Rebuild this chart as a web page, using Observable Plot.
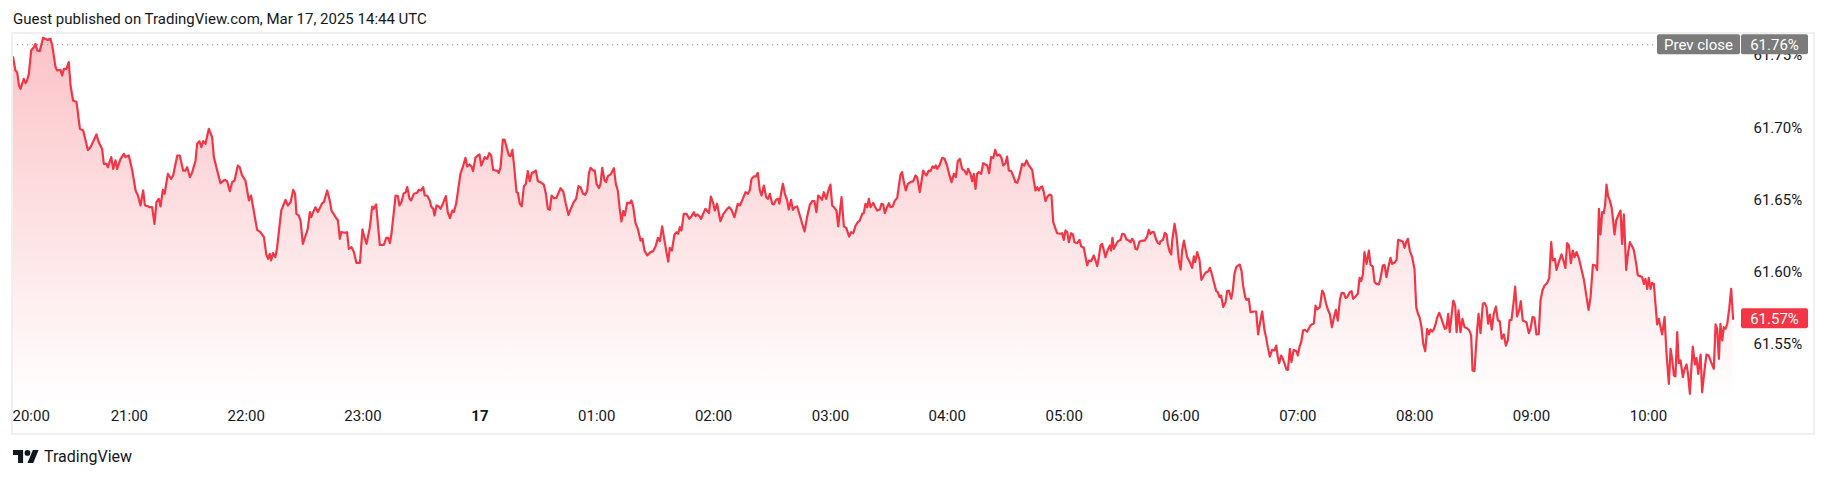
<!DOCTYPE html>
<html>
<head>
<meta charset="utf-8">
<script src="https://cdn.jsdelivr.net/npm/d3@7"></script>
<script src="https://cdn.jsdelivr.net/npm/@observablehq/plot@0.6"></script>
<style>
  html, body { margin: 0; padding: 0; background: #ffffff; }
  #wrap { position: relative; width: 1827px; height: 478px; overflow: hidden; font-family: Roboto, "Open Sans", sans-serif; color: #131722; }
  #title { position: absolute; left: 13px; top: 9px; font-size: 15px; line-height: 20px; white-space: nowrap; }
  #border { position: absolute; left: 11px; top: 32px; width: 1800px; height: 399px; border: 2px solid #f0f0f0; box-sizing: content-box; pointer-events: none; }
  #chart { position: absolute; left: 0; top: 0; }
  #footer { position: absolute; left: 13px; top: 446px; height: 20px; display: flex; align-items: center; font-size: 16px; white-space: nowrap; }
  #footer svg { margin-right: 5px; }
</style>
</head>
<body>
<div id="wrap">
  <div id="title"></div>
  <div id="chart"></div>
  <div id="border"></div>
  <div id="footer"><svg width="26" height="15" viewBox="0 3 36 20"><path d="M14 22H7V11H0V4h14v18ZM28 22h-8l7.5-18h8L28 22Z" fill="#131722"/><circle cx="20" cy="8" r="4" fill="#131722"/></svg><span id="brand"></span></div>
</div>
<script>
// ---- texts ----
const titleText = "Guest published on TradingView.com, Mar 17, 2025 14:44 UTC";
const brandText = "TradingView";

// ---- x ticks (hours from 20:00 on Mar 16) ----
const tickLabels = ["20:00","21:00","22:00","23:00","17","01:00","02:00","03:00","04:00","05:00","06:00","07:00","08:00","09:00","10:00"];
const tickHoursAfter2000 = [0,1,2,3,4,5,6,7,8,9,10,11,12,13,14];

// ---- y ticks ----
const yTicks = [61.55, 61.60, 61.65, 61.70, 61.75];

// ---- reference values ----
const prevClose = 61.7575;
const prevCloseLabel = "61.76%";
const lastLabel = "61.57%";

// ---- series: minutes after 20:00 (Mar 16) and value in % ----
const minutesAfter2000 = [
  0.3,1.5,2.4,3.3,4.1,5.8,6.7,7.5,8.4,9.6,
  11.0,11.8,12.7,14.0,15.7,17.8,19.5,20.4,22.1,22.9,
  24.6,25.5,26.4,27.7,28.9,29.8,31.1,32.9,34.6,36.3,
  38.7,40.1,43.1,44.3,46.0,46.9,48.3,49.0,50.7,51.7,
  52.9,53.7,55.5,57.2,58.0,59.7,61.5,63.2,64.4,65.7,
  67.1,68.0,69.5,70.5,71.7,72.9,73.9,75.1,76.0,77.2,
  78.1,79.8,81.5,82.5,84.6,85.9,87.6,88.8,89.7,91.1,
  92.3,94.0,94.8,96.0,97.0,97.9,99.1,100.8,102.5,103.4,
  105.1,106.8,108.9,110.2,111.6,112.8,114.0,115.7,116.7,117.9,
  119.6,121.4,122.5,125.6,127.3,129.1,130.3,131.3,132.1,132.8,
  133.8,135.0,135.9,138.0,140.2,141.4,
  142.8,144.1,145.1,145.8,147.0,147.9,149.1,150.5,151.6,152.7,
  153.4,154.4,155.6,156.8,159.0,159.9,161.6,162.9,163.8,165.9,
  167.1,168.1,168.8,171.0,171.8,172.7,174.1,175.3,176.6,178.4,
  179.7,180.7,181.8,183.5,184.7,185.5,186.7,188.6,190.7,191.9,
  192.9,193.8,194.6,196.7,197.9,198.7,199.7,200.9,201.8,202.7,
  203.9,204.7,206.1,207.8,208.6,209.8,210.9,211.7,212.9,214.3,
  215.0,216.0,216.7,217.7,218.9,219.8,221.1,222.5,223.5,224.6,
  225.8,226.6,227.8,228.8,230.0,231.2,232.6,233.5,234.7,235.7,
  236.5,237.7,238.9,239.8,240.7,242.5,243.7,244.8,245.8,246.8,
  248.0,248.9,249.7,250.6,251.8,252.6,253.7,254.9,255.7,256.7,
  257.8,258.8,259.5,260.5,261.5,262.6,263.6,264.6,265.6,266.7,
  267.7,268.7,269.8,271.1,272.8,273.9,274.9,275.9,276.8,278.0,
  279.3,281.4,282.8,284.1,285.5,286.9,288.2,289.4,290.6,
  291.7,293.0,294.1,295.1,296.0,296.8,298.2,299.0,299.9,301.1,
  301.9,302.8,304.0,304.8,305.7,307.1,308.8,309.8,310.8,311.9,
  312.7,313.6,314.4,315.6,317.0,317.8,318.7,319.9,321.1,322.5,
  323.5,324.5,325.9,327.6,329.0,330.2,331.4,332.4,333.6,334.8,
  335.8,336.7,337.5,338.6,339.9,341.0,341.8,342.7,343.5,344.7,
  346.1,347.5,348.7,349.9,350.7,351.6,352.8,353.6,355.0,355.8,
  357.6,358.6,359.8,360.6,361.8,363.5,364.9,367.0,368.0,369.2,
  370.7,372.4,373.5,375.0,376.4,377.6,378.6,379.5,380.7,381.7,
  382.7,383.7,384.6,385.8,387.0,388.0,388.9,390.1,390.9,392.1,
  393.2,393.8,394.7,395.6,396.6,397.8,398.6,399.8,400.7,401.7,
  402.9,404.3,405.5,406.7,408.0,409.4,410.6,411.8,412.8,413.7,
  414.9,415.7,416.6,417.8,419.2,420.0,420.9,422.1,423.1,424.0,
  425.7,426.9,428.1,429.6,430.6,431.7,432.9,434.1,435.1,436.3,
  437.1,438.0,438.9,439.7,
  440.6,442.0,443.0,444.0,445.4,446.2,447.1,447.9,449.1,450.0,
  450.8,452.0,452.9,454.3,455.1,456.0,456.8,457.7,458.7,459.7,
  461.1,462.5,463.7,464.5,465.9,467.6,468.3,469.3,470.5,471.4,
  472.4,473.4,474.1,474.8,476.0,477.4,478.6,479.9,481.1,482.2,
  483.4,484.4,485.4,486.4,487.6,488.8,489.9,490.7,491.9,492.8,
  493.6,494.5,495.3,496.2,497.4,498.4,499.6,500.5,501.5,502.5,
  503.6,504.6,505.6,506.8,507.8,508.7,509.9,510.7,511.6,512.8,
  513.8,515.0,515.9,516.9,518.4,519.6,520.7,521.9,523.6,524.4,
  525.3,526.2,527.0,527.9,528.7,529.6,530.4,531.3,532.5,533.5,
  534.4,535.6,536.4,538.1,539.0,539.8,540.7,541.6,542.4,543.6,
  544.5,545.3,546.7,547.9,548.7,550.1,551.0,551.8,552.7,553.9,
  555.2,556.1,557.0,557.8,558.7,559.5,560.4,561.2,562.4,563.5,
  564.1,564.8,565.5,566.4,567.6,569.0,569.8,571.0,572.0,573.2,
  574.1,574.9,575.8,576.6,577.5,578.7,580.1,581.4,582.6,583.5,
  584.3,585.2,586.1,587.3,588.1,589.0,
  589.5,590.8,591.7,592.6,593.2,594.1,595.0,595.5,596.7,597.7,
  598.9,599.8,600.6,601.5,602.3,603.2,604.5,605.7,606.6,607.3,
  608.3,609.5,610.5,611.4,612.6,614.0,614.8,615.7,616.9,618.1,
  618.9,619.8,620.6,621.7,622.9,623.7,624.6,625.8,626.6,627.5,
  628.5,630.2,631.1,631.9,633.0,633.6,634.8,635.7,637.4,638.6,
  639.6,640.5,641.7,642.9,643.7,644.6,645.6,646.8,648.0,648.9,
  649.7,650.4,651.4,652.3,653.2,654.2,654.9,655.9,656.7,657.9,
  659.3,660.0,660.9,661.7,662.7,663.6,664.8,666.0,667.0,668.2,
  669.1,669.9,671.3,672.5,673.4,674.5,675.6,676.4,677.5,678.5,
  679.5,680.5,681.6,682.4,683.6,684.5,685.3,686.7,687.6,688.4,
  689.6,690.8,691.7,692.5,693.4,694.2,695.3,696.5,697.3,698.5,
  699.4,700.4,701.6,702.4,703.6,704.5,705.5,706.4,707.6,708.4,
  709.6,710.7,711.5,712.7,713.9,714.8,715.6,716.5,717.5,718.7,
  719.9,720.8,721.6,722.6,723.5,724.4,725.4,726.4,727.3,728.1,
  729.0,729.8,730.7,731.5,732.6,733.6,734.6,735.5,736.3,737.2,
  738.0,
  739.8,740.8,741.5,742.5,743.5,744.5,745.6,746.9,748.1,749.0,
  749.7,750.7,752.1,752.8,753.8,755.0,755.9,756.9,757.7,758.6,
  759.6,760.6,761.7,762.7,763.7,764.7,765.8,766.8,767.8,768.7,
  769.7,770.9,771.6,772.6,773.6,774.5,775.5,777.4,778.6,779.5,
  780.5,781.5,782.5,783.7,784.6,785.6,786.7,788.0,789.1,790.1,
  790.9,792.0,792.8,794.0,795.4,796.6,797.4,798.3,799.2,800.2,
  801.2,802.1,803.1,804.3,805.7,806.9,808.1,809.3,810.3,811.5,
  812.9,813.7,814.6,815.4,816.3,817.1,817.8,818.5,819.3,820.2,
  821.1,821.9,822.6,823.5,824.5,825.7,826.5,827.4,828.6,829.6,
  830.5,831.7,832.5,833.7,834.6,835.6,836.8,837.7,838.5,839.4,
  840.2,841.1,841.9,842.8,843.6,844.5,845.4,846.2,847.1,848.3,
  849.3,850.5,851.4,852.2,853.1,853.9,854.8,855.6,856.5,857.7,
  858.5,859.6,860.4,861.3,862.0,862.8,863.9,864.7,865.6,866.8,
  867.6,868.8,869.8,871.0,872.2,873.6,874.5,875.3,876.2,877.0,
  877.9,878.7,879.6,880.5,881.5,882.5,883.5
];
const ratePct = [
  61.7489,61.7397,61.7385,61.7293,61.7270,61.7339,61.7309,61.7328,61.7374,61.7535,
  61.7558,61.7581,61.7535,61.7531,61.7623,61.7609,61.7616,61.7570,61.7420,61.7397,
  61.7401,61.7362,61.7408,61.7408,61.7455,61.7293,61.7189,61.7178,61.6993,61.6981,
  61.6847,61.6866,61.6954,61.6900,61.6854,61.6750,61.6750,61.6727,61.6797,61.6716,
  61.6774,61.6716,61.6785,61.6820,61.6797,61.6808,61.6704,61.6566,61.6531,61.6462,
  61.6566,61.6462,61.6457,61.6450,61.6450,61.6335,61.6485,61.6508,61.6455,61.6570,
  61.6543,61.6681,61.6647,61.6670,61.6808,61.6808,61.6704,61.6704,61.6727,61.6658,
  61.6693,61.6774,61.6889,61.6907,61.6866,61.6907,61.6889,61.6993,61.6935,61.6797,
  61.6704,61.6617,61.6640,61.6630,61.6561,61.6624,61.6635,61.6739,61.6727,61.6670,
  61.6635,61.6497,61.6531,61.6293,61.6277,61.6243,61.6123,61.6093,61.6127,61.6081,
  61.6132,61.6104,61.6173,61.6427,61.6501,61.6462,
  61.6485,61.6570,61.6543,61.6404,61.6393,61.6358,61.6196,61.6254,61.6300,61.6416,
  61.6381,61.6416,61.6450,61.6416,61.6478,61.6485,61.6566,61.6497,61.6427,61.6381,
  61.6358,61.6231,61.6277,61.6273,61.6277,61.6162,61.6173,61.6139,61.6065,61.6065,
  61.6296,61.6243,61.6196,61.6312,61.6455,61.6439,61.6469,61.6189,61.6189,61.6238,
  61.6238,61.6201,61.6266,61.6531,61.6527,61.6462,61.6485,61.6547,61.6550,61.6589,
  61.6508,61.6497,61.6543,61.6550,61.6570,61.6566,61.6589,61.6531,61.6531,61.6497,
  61.6455,61.6439,61.6393,61.6462,61.6455,61.6439,61.6478,61.6527,61.6416,61.6374,
  61.6427,61.6416,61.6474,61.6566,61.6681,61.6727,61.6792,61.6732,61.6746,61.6732,
  61.6700,61.6792,61.6808,61.6815,61.6739,61.6797,61.6785,61.6824,61.6808,61.6709,
  61.6704,61.6704,61.6688,61.6727,61.6919,61.6919,61.6866,61.6808,61.6804,61.6847,
  61.6704,61.6554,61.6550,61.6474,61.6457,61.6594,61.6612,61.6700,61.6630,61.6688,
  61.6693,61.6704,61.6630,61.6624,61.6607,61.6543,61.6439,61.6432,61.6531,61.6513,
  61.6515,61.6582,61.6559,61.6474,61.6397,61.6446,61.6485,61.6508,61.6596,
  61.6589,61.6543,61.6536,61.6566,61.6686,61.6723,61.6704,61.6704,61.6612,61.6582,
  61.6607,61.6723,61.6635,61.6624,61.6665,61.6677,61.6720,61.6612,61.6566,61.6427,
  61.6351,61.6423,61.6393,61.6480,61.6478,61.6497,61.6455,61.6340,61.6300,61.6219,
  61.6231,61.6150,61.6116,61.6139,61.6146,61.6178,61.6238,61.6215,61.6317,61.6219,
  61.6139,61.6074,61.6169,61.6150,61.6261,61.6277,61.6266,61.6312,61.6289,61.6404,
  61.6404,61.6370,61.6388,61.6416,61.6388,61.6400,61.6386,61.6370,61.6416,61.6439,
  61.6409,61.6524,61.6478,61.6427,61.6474,61.6353,61.6400,61.6439,61.6450,61.6432,
  61.6381,61.6474,61.6462,61.6508,61.6554,61.6543,61.6570,61.6647,61.6663,61.6663,
  61.6688,61.6570,61.6531,61.6600,61.6520,61.6508,61.6543,61.6474,61.6469,61.6501,
  61.6508,61.6474,61.6550,61.6612,61.6543,61.6497,61.6434,61.6501,61.6432,61.6450,
  61.6455,61.6393,61.6335,61.6282,61.6381,61.6466,61.6492,61.6492,61.6416,61.6531,
  61.6515,61.6501,61.6554,61.6508,61.6577,61.6607,61.6462,61.6446,61.6427,61.6317,
  61.6520,61.6317,61.6307,61.6247,61.6277,61.6270,61.6323,61.6347,61.6358,61.6404,
  61.6409,61.6474,61.6450,61.6508,
  61.6450,61.6480,61.6450,61.6427,61.6434,61.6474,61.6469,61.6409,61.6450,61.6478,
  61.6450,61.6455,61.6492,61.6515,61.6594,61.6677,61.6693,61.6624,61.6566,61.6612,
  61.6624,61.6630,61.6670,61.6658,61.6554,61.6704,61.6686,61.6670,61.6704,61.6700,
  61.6732,61.6723,61.6739,61.6716,61.6739,61.6792,61.6785,61.6739,61.6670,61.6624,
  61.6681,61.6658,61.6769,61.6785,61.6716,61.6704,61.6677,61.6716,61.6681,61.6630,
  61.6681,61.6577,61.6681,61.6693,61.6681,61.6755,61.6746,61.6739,61.6686,61.6797,
  61.6790,61.6847,61.6808,61.6815,61.6792,61.6739,61.6755,61.6801,61.6704,61.6700,
  61.6670,61.6624,61.6619,61.6658,61.6750,61.6739,61.6774,61.6739,61.6709,61.6635,
  61.6566,61.6589,61.6566,61.6589,61.6594,61.6554,61.6492,61.6520,61.6538,61.6531,
  61.6347,61.6300,61.6270,61.6266,61.6270,61.6224,61.6289,61.6277,61.6208,61.6270,
  61.6261,61.6208,61.6201,61.6224,61.6180,61.6169,61.6104,61.6047,61.6081,61.6077,
  61.6116,61.6081,61.6042,61.6104,61.6185,61.6196,61.6150,61.6104,61.6155,61.6185,
  61.6150,61.6238,61.6162,61.6185,61.6215,61.6224,61.6266,61.6261,61.6226,61.6219,
  61.6208,61.6231,61.6215,61.6162,61.6157,61.6213,61.6219,61.6219,61.6247,61.6293,
  61.6266,61.6277,61.6277,61.6224,61.6203,61.6196,
  61.6215,61.6224,61.6273,61.6261,61.6196,61.6146,61.6123,61.6219,61.6335,61.6250,
  61.6081,61.6019,61.6150,61.6219,61.6162,61.6104,61.6070,61.6030,61.6109,61.6070,
  61.6139,61.6086,61.5947,61.5970,61.5996,61.6007,61.6030,61.5993,61.5931,61.5869,
  61.5862,61.5827,61.5839,61.5758,61.5793,61.5869,61.5873,61.5816,61.5873,61.5993,
  61.6039,61.6053,61.6007,61.5908,61.5827,61.5809,61.5816,61.5723,61.5728,61.5728,
  61.5569,61.5643,61.5728,61.5596,61.5550,61.5481,61.5416,61.5462,61.5458,61.5492,
  61.5416,61.5370,61.5423,61.5400,61.5366,61.5326,61.5324,61.5469,61.5377,61.5462,
  61.5453,61.5423,61.5485,61.5515,61.5596,61.5601,61.5589,61.5619,61.5638,61.5643,
  61.5769,61.5742,61.5758,61.5873,61.5850,61.5781,61.5735,61.5712,61.5619,61.5684,
  61.5739,61.5665,61.5809,61.5855,61.5855,61.5822,61.5827,61.5862,61.5869,61.5816,
  61.5832,61.5850,61.5961,61.5938,61.5984,61.6139,61.6058,61.6150,61.6053,61.6039,
  61.5931,61.5919,61.5915,61.5954,61.6046,61.6051,61.5966,61.6030,61.6100,61.6058,
  61.6065,61.6086,61.6224,61.6219,61.6213,61.6169,61.6208,61.6231,61.6150,61.6104,
  61.6023,61.5758,61.5716,61.5684,61.5619,61.5504,61.5453,61.5608,61.5569,61.5603,
  61.5589,61.5603,61.5638,61.5684,61.5719,61.5684,61.5643,61.5608,61.5612,61.5712,
  61.5585,
  61.5804,61.5769,61.5585,61.5735,61.5585,61.5677,61.5619,61.5612,61.5596,61.5562,
  61.5319,61.5315,61.5608,61.5712,61.5578,61.5781,61.5786,61.5758,61.5643,61.5707,
  61.5603,61.5712,61.5762,61.5666,61.5661,61.5539,61.5569,61.5492,61.5527,61.5666,
  61.5670,61.5804,61.5901,61.5693,61.5735,61.5799,61.5666,61.5654,61.5578,61.5608,
  61.5689,61.5684,61.5569,61.5573,61.5804,61.5873,61.5908,61.5924,61.5961,61.6208,
  61.6081,61.6093,61.6016,61.6070,61.6123,61.6070,61.6030,61.6201,61.6185,61.6063,
  61.6150,61.6104,61.6139,61.6097,61.6016,61.5947,61.5839,61.5739,61.5827,61.6051,
  61.6046,61.6016,61.6439,61.6261,61.6416,61.6409,61.6467,61.6607,61.6527,61.6497,
  61.6450,61.6358,61.6261,61.6358,61.6393,61.6427,61.6196,61.6400,61.6016,61.6139,
  61.6208,61.6178,61.6155,61.6063,61.5977,61.5973,61.5966,61.5919,61.5954,61.5885,
  61.5961,61.5885,61.5926,61.5919,61.5786,61.5638,61.5677,61.5624,61.5569,61.5689,
  61.5439,61.5227,61.5469,61.5400,61.5285,61.5278,61.5585,61.5370,61.5389,61.5273,
  61.5324,61.5361,61.5292,61.5158,61.5319,61.5485,61.5361,61.5405,61.5296,61.5430,
  61.5169,61.5319,61.5430,61.5423,61.5377,61.5331,61.5638,61.5608,61.5400,61.5643,
  61.5527,61.5619,61.5608,61.5643,61.5746,61.5885,61.5677
];

if (minutesAfter2000.length !== ratePct.length) {
  throw new Error("length mismatch " + minutesAfter2000.length + " vs " + ratePct.length);
}

// ---- build ----
document.getElementById("title").textContent = titleText;
document.getElementById("brand").textContent = brandText;

const start = Date.UTC(2025, 2, 16, 20, 0);
const toDate = (m) => new Date(start + m * 60000);
const data = minutesAfter2000.map((m, i) => ({t: toDate(m), v: ratePct[i]}));
const ticks = tickLabels.map((label, i) => ({t: toDate(tickHoursAfter2000[i] * 60), label}));
const xDomain = [toDate(0), toDate(887.3)];
const yDomain = [61.51115, 61.7653];

const RED = "#F23645";

const defsMark = () => {
  const g = d3.create("svg:g");
  const grad = g.append("defs").append("linearGradient")
    .attr("id", "tvGrad").attr("x1", 0).attr("y1", 0).attr("x2", 0).attr("y2", 1);
  grad.append("stop").attr("offset", 0).attr("stop-color", RED).attr("stop-opacity", 0.3);
  grad.append("stop").attr("offset", 1).attr("stop-color", RED).attr("stop-opacity", 0.0);
  return g.node();
};

const labelsMark = (index, scales, values, dimensions) => {
  const right = dimensions.width - dimensions.marginRight;
  const g = d3.create("svg:g").attr("font-family", "Roboto, sans-serif").attr("font-size", 15);
  const yp = scales.y(prevClose);
  // Prev close box
  g.append("rect").attr("x", right - 83).attr("y", yp - 10).attr("width", 83).attr("height", 20).attr("rx", 2).attr("fill", "#7b7b7b");
  g.append("text").attr("x", right - 41.5).attr("y", yp).attr("dy", "0.35em").attr("text-anchor", "middle").attr("fill", "#ffffff").text("Prev close");
  g.append("rect").attr("x", right + 1).attr("y", yp - 10).attr("width", 67).attr("height", 20).attr("rx", 2).attr("fill", "#7b7b7b");
  g.append("text").attr("x", right + 34.5).attr("y", yp).attr("dy", "0.35em").attr("text-anchor", "middle").attr("fill", "#ffffff").text(prevCloseLabel);
  // Last value box
  const yl = scales.y(ratePct[ratePct.length - 1]);
  g.append("rect").attr("x", right + 1).attr("y", yl - 10).attr("width", 67).attr("height", 20).attr("rx", 2).attr("fill", RED);
  g.append("text").attr("x", right + 34.5).attr("y", yl).attr("dy", "0.35em").attr("text-anchor", "middle").attr("fill", "#ffffff").text(lastLabel);
  return g.node();
};

const plot = Plot.plot({
  width: 1827,
  height: 478,
  marginLeft: 12,
  marginRight: 87,
  marginTop: 33,
  marginBottom: 78,
  x: {type: "utc", domain: xDomain, axis: null},
  y: {domain: yDomain, axis: null},
  style: {fontFamily: "Roboto, sans-serif", fontSize: "15px", color: "#131722", background: "transparent", overflow: "visible"},
  marks: [
    defsMark,
    Plot.areaY(data, {x: "t", y1: yDomain[0], y2: "v", fill: "url(#tvGrad)"}),
    Plot.ruleY([prevClose], {stroke: "#8a8a8a", strokeDasharray: "1.2,3.8", strokeWidth: 1.2}),
    Plot.lineY(data, {x: "t", y: "v", stroke: RED, strokeWidth: 2.2, strokeLinejoin: "round"}),
    Plot.text(yTicks, {y: (d) => d, text: (d) => d.toFixed(2) + "%", frameAnchor: "right", dx: 13, textAnchor: "start", fill: "#131722", fontSize: 15}),
    labelsMark,
    Plot.text(ticks.slice(0, 1), {x: "t", text: "label", frameAnchor: "bottom", dy: 20, textAnchor: "start", fill: "#131722", fontSize: 15}),
    Plot.text(ticks.slice(1).filter(d => d.label !== "17"), {x: "t", text: "label", frameAnchor: "bottom", dy: 20, fill: "#131722", fontSize: 15}),
    Plot.text(ticks.filter(d => d.label === "17"), {x: "t", text: "label", frameAnchor: "bottom", dy: 20, fill: "#131722", fontSize: 15, fontWeight: "bold"})
  ]
});
document.getElementById("chart").appendChild(plot);
</script>
</body>
</html>
